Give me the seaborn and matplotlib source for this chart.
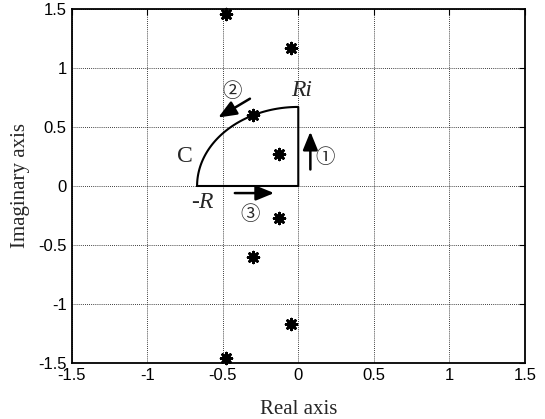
import numpy as np
import pandas as pd
import matplotlib
matplotlib.use("Agg")
import matplotlib.pyplot as plt
import seaborn as sns

# poles
pole_re = [-0.48, -0.05, -0.30, -0.13, -0.13, -0.30, -0.05, -0.48]
pole_im = [1.46, 1.17, 0.60, 0.27, -0.27, -0.60, -1.17, -1.46]

# radius of the contour
R = 0.67

# arrows along the contour: (tail, head)
arrow_tail = [(0.08, 0.14), (-0.32, 0.74), (-0.42, -0.06)]
arrow_head = [(0.08, 0.46), (-0.53, 0.58), (-0.16, -0.06)]
arrow_names = ["\u2460", "\u2461", "\u2462"]
arrow_label_pos = [(0.18, 0.24), (-0.44, 0.80), (-0.32, -0.24)]

ticks = [-1.5, -1, -0.5, 0, 0.5, 1, 1.5]
tick_labels = ["-1.5", "-1", "-0.5", "0", "0.5", "1", "1.5"]

sns.set_style("white")
plt.rcParams["font.family"] = ["Liberation Sans", "DejaVu Sans"]

fig = plt.figure(figsize=(5.45, 4.19), dpi=100)
ax = fig.add_axes([0.1316, 0.1337, 0.8314, 0.8448])

# contour: -R -> 0 -> Ri -> arc back to -R
theta = np.linspace(np.pi / 2, np.pi, 60)
contour = pd.DataFrame({
    "re": np.concatenate([[-R, 0, 0], R * np.cos(theta)]),
    "im": np.concatenate([[0, 0, R], R * np.sin(theta)]),
})
sns.lineplot(data=contour, x="re", y="im", sort=False, estimator=None,
             color="black", linewidth=1.5, ax=ax)

poles = pd.DataFrame({"re": pole_re, "im": pole_im})
sns.scatterplot(data=poles, x="re", y="im", marker=(8, 2, 0), s=60,
                color="black", edgecolor="black", linewidth=2.0, ax=ax,
                clip_on=False, zorder=5)

for tail, head in zip(arrow_tail, arrow_head):
    ax.annotate("", xy=head, xytext=tail,
                arrowprops=dict(arrowstyle="-|>,head_length=1.1,head_width=0.45",
                                color="black", lw=1.8, shrinkA=0, shrinkB=0))
for name, pos in zip(arrow_names, arrow_label_pos):
    ax.text(pos[0], pos[1], name, fontsize=14, ha="center", va="center",
            family=["Noto Sans CJK JP", "DejaVu Sans"])

serif = ["Liberation Serif", "DejaVu Serif"]
ax.text(0.02, 0.81, "Ri", fontsize=17, style="italic", family=serif,
        ha="center", va="center")
ax.text(-0.75, 0.25, "C", fontsize=17, family=serif, ha="center", va="center")
ax.text(-0.66, -0.14, "-", fontsize=17, family=serif, ha="right", va="center")
ax.text(-0.66, -0.14, "R", fontsize=17, style="italic", family=serif,
        ha="left", va="center")

ax.set_xlim(-1.5, 1.5)
ax.set_ylim(-1.5, 1.5)
ax.set_xticks(ticks)
ax.set_xticklabels(tick_labels)
ax.set_yticks(ticks)
ax.set_yticklabels(tick_labels)
ax.tick_params(direction="in", length=4, width=0.8, labelsize=12,
               top=True, right=True, colors="black")
ax.grid(True, color="black", linestyle=(0, (1, 1.5)), linewidth=0.6)
for sp in ax.spines.values():
    sp.set_color("black")
    sp.set_linewidth(1.3)

ax.set_xlabel("Real axis", family=serif, fontsize=15, labelpad=12)
ax.set_ylabel("Imaginary axis", family=serif, fontsize=15, labelpad=6)

fig.savefig("out.png", dpi=100)
